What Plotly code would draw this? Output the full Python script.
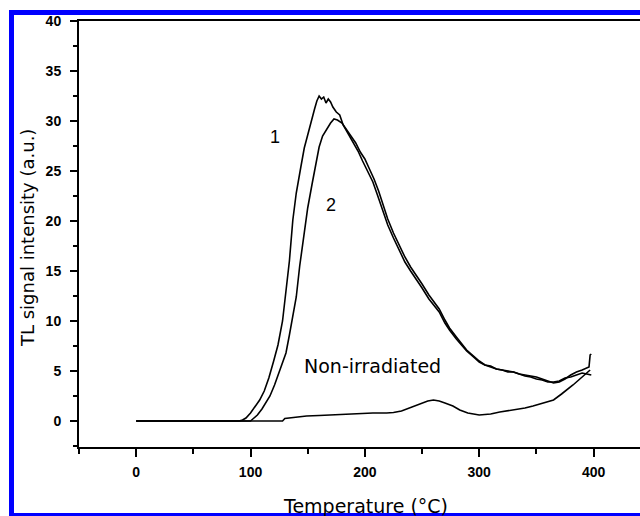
import plotly.graph_objects as go

# ---- data ----
temp_1 = [0, 20, 40, 60, 80, 90, 93, 96, 100, 104, 108, 112, 116, 120, 124, 128, 131, 134, 137, 140,
          144, 147, 150, 153, 156, 158, 160, 162, 164, 166, 168, 170, 172, 175, 178, 181, 184, 187, 190,
          194, 198, 202, 207, 211, 216, 220, 225, 230, 235, 240, 245, 250, 256, 260, 265, 270, 274, 280,
          285, 289, 295, 300, 305, 310, 315, 320, 325, 330, 335, 340, 345, 350, 355, 360, 365, 370, 375,
          380, 385, 390, 394, 396, 397, 398]
signal_1 = [0, 0, 0, 0, 0, 0, 0.1, 0.3, 0.8, 1.4, 2.1, 3.0, 4.3, 5.9, 7.6, 10.0, 12.8, 16.0, 20.1, 22.8,
            25.4, 27.3, 28.6, 30.0, 31.2, 32.0, 32.5, 32.2, 32.4, 31.8, 32.2, 31.9, 31.4, 30.9, 30.6, 29.6,
            29.0, 28.4, 27.8, 27.0, 26.0, 25.1, 23.9, 22.6, 21.0, 19.6, 18.3, 17.1, 15.9, 15.0, 14.2, 13.3,
            12.2, 11.6, 10.9, 9.8, 9.1, 8.2, 7.5, 7.0, 6.4, 5.9, 5.6, 5.4, 5.2, 5.1, 5.0, 4.9, 4.7, 4.6, 4.5,
            4.4, 4.2, 4.0, 3.8, 3.9, 4.2, 4.6, 4.9, 5.1, 5.3, 5.4, 6.6, 6.7]

temp_2 = [0, 20, 40, 60, 80, 100, 102, 106, 110, 114, 117, 121, 125, 128, 131, 134, 137, 140, 143, 147,
          150, 154, 157, 160, 163, 166, 170, 173, 176, 180, 183, 186, 189, 192, 196, 200, 204, 208, 212,
          216, 220, 225, 230, 235, 240, 245, 250, 256, 260, 265, 270, 274, 280, 285, 289, 295, 300, 305,
          310, 315, 320, 325, 330, 335, 340, 345, 350, 355, 360, 365, 370, 375, 380, 385, 390, 394, 398]
signal_2 = [0, 0, 0, 0, 0, 0, 0.2, 0.6, 1.2, 1.9, 2.5, 3.6, 4.9, 5.9, 6.8, 8.6, 10.4, 12.4, 15.5, 19.1,
            21.3, 23.8, 25.6, 27.4, 28.5, 29.1, 29.8, 30.2, 30.1, 29.8, 29.3, 28.8, 28.3, 27.8, 26.9, 26.2,
            25.2, 24.2, 23.0, 21.6, 20.2, 18.8, 17.6, 16.4, 15.4, 14.6, 13.7, 12.6, 12.0, 11.2, 10.1, 9.3,
            8.4, 7.7, 7.1, 6.5, 6.0, 5.6, 5.5, 5.2, 5.1, 4.9, 4.9, 4.7, 4.5, 4.4, 4.2, 4.1, 3.9, 3.9, 4.0,
            4.3, 4.4, 4.6, 4.8, 4.7, 4.6]

temp_non = [0, 20, 40, 60, 80, 100, 128, 130, 140, 149, 160, 169, 178, 190, 207, 219, 225, 232, 239, 245,
            250, 255, 260, 265, 270, 277, 283, 290, 300, 310, 318, 324, 330, 340, 347, 355, 365, 372, 378,
            382, 387, 392, 397]
signal_non = [0, 0, 0, 0, 0, 0, 0, 0.25, 0.4, 0.5, 0.55, 0.6, 0.65, 0.75, 0.8, 0.8, 0.85, 1.0, 1.3, 1.6,
              1.8, 2.0, 2.1, 2.0, 1.8, 1.5, 1.1, 0.8, 0.6, 0.7, 0.9, 1.0, 1.1, 1.3, 1.5, 1.8, 2.1, 2.7, 3.2,
              3.6, 4.1, 4.6, 5.1]

curve_labels = ["1", "2", "Non-irradiated"]
label_x = [121, 170, 207]
label_y = [28.4, 21.6, 5.5]

x_title = "Temperature (°C)"
y_title = "TL signal intensity (a.u.)"

# ---- figure ----
fig = go.Figure()
line_style = dict(color="black", width=1.6)
for tx, sy in [(temp_1, signal_1), (temp_2, signal_2), (temp_non, signal_non)]:
    fig.add_trace(go.Scatter(x=tx, y=sy, mode="lines", line=line_style,
                             showlegend=False, hoverinfo="skip"))

for txt, lx, ly in zip(curve_labels, label_x, label_y):
    size = 18 if len(txt) == 1 else 19
    fam = "Liberation Sans" if len(txt) == 1 else "DejaVu Sans"
    fig.add_annotation(x=lx, y=ly, text=txt, showarrow=False,
                       font=dict(family=fam, size=size, color="black"))

L, R, T, B = 79, 0, 21, 69
W, H = 640, 516
pw, ph = W - L - R, H - T - B


def px_x(p):
    return (p - L) / pw


def px_y(p):
    return (H - B - p) / ph


# axis titles
fig.add_annotation(xref="paper", yref="paper", x=px_x(365), y=px_y(506), text=x_title,
                   showarrow=False, xanchor="center", yanchor="middle",
                   font=dict(family="DejaVu Sans", size=19, color="black"))
fig.add_annotation(xref="paper", yref="paper", x=px_x(27), y=px_y(238), text=y_title,
                   showarrow=False, textangle=-90, xanchor="center", yanchor="middle",
                   font=dict(family="DejaVu Sans", size=18, color="black"))

# blue frame
fig.add_shape(type="rect", xref="paper", yref="paper",
              x0=px_x(11.5), x1=px_x(900), y0=px_y(515.5), y1=px_y(12.5),
              line=dict(color="#0000ff", width=5), layer="above")

tickfont = dict(family="Liberation Sans", size=14, color="black", weight="bold")
fig.update_xaxes(range=[-50, 440.6], tick0=0, dtick=100, ticks="outside", ticklen=8, tickwidth=2,
                 tickcolor="black", showline=True, linecolor="black", linewidth=2, mirror=True,
                 showgrid=False, zeroline=False, tickfont=tickfont, ticklabelstandoff=3,
                 minor=dict(dtick=50, tick0=0, ticks="outside", ticklen=5, tickwidth=2,
                            tickcolor="black", showgrid=False))
fig.update_yaxes(range=[-2.6, 40], tick0=0, dtick=5, ticks="outside", ticklen=7, tickwidth=2,
                 tickcolor="black", showline=True, linecolor="black", linewidth=2, mirror=False,
                 showgrid=False, zeroline=False, tickfont=tickfont, ticklabelstandoff=6,
                 minor=dict(dtick=2.5, tick0=0, ticks="outside", ticklen=4, tickwidth=2,
                            tickcolor="black", showgrid=False))

fig.update_layout(width=W, height=H, margin=dict(l=L, r=R, t=T, b=B),
                  paper_bgcolor="white", plot_bgcolor="white")

fig.write_html("out.html")
